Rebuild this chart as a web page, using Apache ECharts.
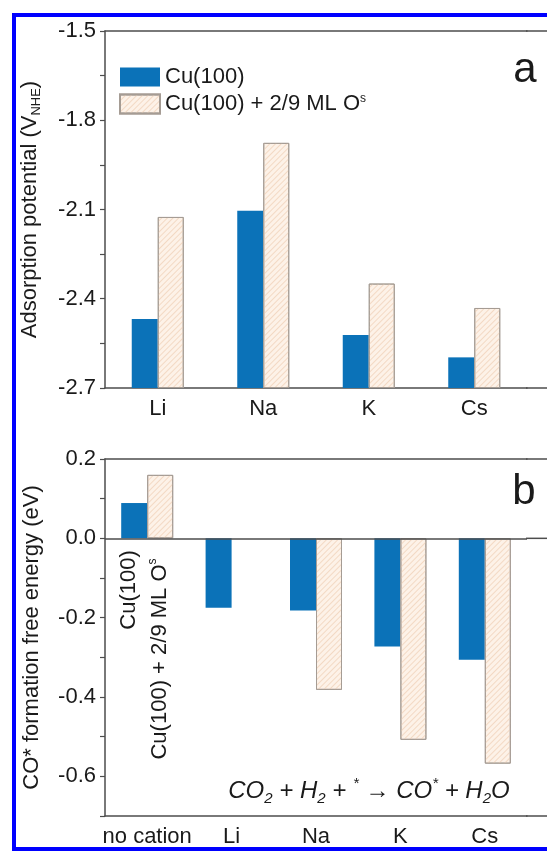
<!DOCTYPE html>
<html>
<head>
<meta charset="utf-8">
<script src="https://cdn.jsdelivr.net/npm/echarts@6/dist/echarts.min.js"></script>
<style>
html,body{margin:0;padding:0;background:#fff;}
#main{width:547px;height:851px;}
</style>
</head>
<body>
<div id="main"></div>
<script>
/* 数据 */
var catsA = ['Li', 'Na', 'K', 'Cs'];
var potCu = [-2.468, -2.104, -2.522, -2.597];      // Cu(100)
var potCuO = [-2.125, -1.876, -2.349, -2.431];     // Cu(100) + 2/9 ML O^s
var potBase = -2.7;                                 // 柱子起点（轴底）
var catsB = ['no cation', 'Li', 'Na', 'K', 'Cs'];
var coCu = [0.089, -0.175, -0.182, -0.273, -0.306];
var coCuO = [0.16, null, -0.382, -0.508, -0.568];

var nameA = 'Cu(100)';
var nameB = 'Cu(100) + 2/9 ML Os';

var blue = '#0b72b8';
var axisCol = '#4d4d4d';
var txtCol = '#1a1a1a';
var font = 'Liberation Sans, Arial, sans-serif';

var hatch = {
    color: '#fdf2e8',
    borderColor: '#a59c94',
    borderWidth: 1,
    decal: {
        symbol: 'rect',
        symbolSize: 1,
        dashArrayX: [[1, 0]],
        dashArrayY: [1, 2.5],
        rotation: -Math.PI / 4,
        color: '#f3d9c4'
    }
};

// 上图柱子从 -2.7 起画：透明底座 + 堆叠差值
var baseArr = catsA.map(function () { return potBase; });
function fromBase(arr) {
    return arr.map(function (v) { return +(v - potBase).toFixed(4); });
}

function yAxisCfg(gi, min, max, step, name) {
    return {
        type: 'value', gridIndex: gi, min: min, max: max, interval: step,
        axisLine: {show: true, lineStyle: {color: axisCol, width: 1.5}},
        axisTick: {show: true, length: 5, lineStyle: {color: axisCol, width: 1.2}},
        splitLine: {show: false},
        axisLabel: {
            fontSize: 22, color: txtCol, fontFamily: font, margin: 9,
            formatter: function (v) {
                return Math.round(v / step) % 2 === 0 ? v.toFixed(1) : '';
            }
        },
        name: name, nameLocation: 'middle', nameRotate: 90, nameGap: 62,
        nameTextStyle: {
            fontSize: 22, color: txtCol, fontFamily: font,
            rich: {
                n: {fontSize: 22, color: txtCol, fontFamily: font, lineHeight: 26},
                sub: {fontSize: 13, color: txtCol, fontFamily: font, lineHeight: 12, verticalAlign: 'bottom'}
            }
        }
    };
}

function xAxisCfg(gi, data) {
    return {
        type: 'category', gridIndex: gi, data: data,
        axisLine: {onZero: false, lineStyle: {color: axisCol, width: 1.5}},
        axisTick: {alignWithLabel: true, interval: 0, length: 6, lineStyle: {color: axisCol, width: 1.2}},
        axisLabel: {interval: 0, fontSize: 22, color: txtCol, fontFamily: font, margin: 10}
    };
}

function frameTop(gi, data) {
    return {
        type: 'category', gridIndex: gi, data: data, position: 'top',
        axisLine: {onZero: false, lineStyle: {color: axisCol, width: 1.5}},
        axisTick: {show: false}, axisLabel: {show: false}
    };
}

var myChart = echarts.init(document.getElementById('main'));
var option = {
    backgroundColor: '#fff',
    animation: false,
    grid: [
        {left: 105, right: 20, top: 31, height: 357},
        {left: 105, right: 20, top: 459, height: 357}
    ],
    legend: {
        data: [nameA, nameB],
        orient: 'vertical',
        left: 114, top: 61,
        icon: 'rect',
        itemWidth: 40, itemHeight: 19, itemGap: 5,
        textStyle: {
            fontSize: 22, color: txtCol, fontFamily: font,
            rich: {
                n: {fontSize: 22, color: txtCol, fontFamily: font},
                sup: {fontSize: 12, color: txtCol, fontFamily: font, verticalAlign: 'top', lineHeight: 12}
            }
        },
        formatter: function (n) {
            return n === nameB ? '{n|Cu(100) + 2/9 ML O}{sup|s}' : '{n|' + n + '}';
        }
    },
    xAxis: [xAxisCfg(0, catsA), frameTop(0, catsA), xAxisCfg(1, catsB), frameTop(1, catsB)],
    yAxis: [
        yAxisCfg(0, -2.7, -1.5, 0.15, '{n|Adsorption potential (V}{sub|NHE}{n|)}'),
        yAxisCfg(1, -0.7, 0.2, 0.1, 'CO* formation free energy (eV)')
    ],
    series: [
        {name: 'baseA', type: 'bar', xAxisIndex: 0, yAxisIndex: 0, data: baseArr, stack: 'a',
         stackStrategy: 'all', barWidth: 26, barGap: '0%', silent: true,
         itemStyle: {color: 'rgba(0,0,0,0)'}},
        {name: nameA, type: 'bar', xAxisIndex: 0, yAxisIndex: 0, data: fromBase(potCu), stack: 'a',
         stackStrategy: 'all', barWidth: 26, barGap: '0%', itemStyle: {color: blue}},
        {name: 'baseB', type: 'bar', xAxisIndex: 0, yAxisIndex: 0, data: baseArr, stack: 'b',
         stackStrategy: 'all', barWidth: 26, barGap: '0%', silent: true,
         itemStyle: {color: 'rgba(0,0,0,0)'}},
        {name: nameB, type: 'bar', xAxisIndex: 0, yAxisIndex: 0, data: fromBase(potCuO), stack: 'b',
         stackStrategy: 'all', barWidth: 26, barGap: '0%', itemStyle: hatch},
        {name: nameA, type: 'bar', xAxisIndex: 2, yAxisIndex: 1, data: coCu,
         barWidth: 26, barGap: '0%', itemStyle: {color: blue},
         markLine: {silent: true, symbol: 'none', label: {show: false},
                    lineStyle: {color: axisCol, width: 1.5, type: 'solid'},
                    data: [{yAxis: 0}]}},
        {name: nameB, type: 'bar', xAxisIndex: 2, yAxisIndex: 1, data: coCuO,
         barWidth: 26, barGap: '0%', itemStyle: hatch}
    ]
};
myChart.setOption(option);

// 边框与注释
var ext = [];
[[0, -1.5], [0, -2.7], [1, 0.2], [1, 0], [1, -0.7]].forEach(function (p) {
    var y = myChart.convertToPixel({yAxisIndex: p[0]}, p[1]);
    ext.push({type: 'line', shape: {x1: 526, y1: y, x2: 547, y2: y},
              style: {stroke: axisCol, lineWidth: 1.5}});
});
myChart.setOption({
    graphic: ext.concat([
        {type: 'rect', shape: {x: 14, y: 15, width: 600, height: 834},
         style: {fill: 'none', stroke: '#0000ff', lineWidth: 4}},
        {type: 'text', x: 525, y: 70, style: {text: 'a', fontSize: 42, fontFamily: font,
         fill: txtCol, align: 'center', verticalAlign: 'middle'}},
        {type: 'text', x: 524, y: 492, style: {text: 'b', fontSize: 42, fontFamily: font,
         fill: txtCol, align: 'center', verticalAlign: 'middle'}},
        {type: 'text', x: 129, y: 590, rotation: Math.PI / 2,
         style: {text: 'Cu(100)', fontSize: 22, fontFamily: font, fill: txtCol,
                 align: 'center', verticalAlign: 'middle'}},
        {type: 'text', x: 160, y: 659, rotation: Math.PI / 2,
         style: {text: '{n|Cu(100) + 2/9 ML O}{sup|s}', align: 'center', verticalAlign: 'middle',
                 rich: {n: {fontSize: 22, fontFamily: font, fill: txtCol, lineHeight: 26},
                        sup: {fontSize: 12, fontFamily: font, fill: txtCol, lineHeight: 12, verticalAlign: 'top'}}}},
        {type: 'text', x: 369, y: 791,
         style: {text: '{i|CO}{sub|2}{i| + H}{sub|2}{i| + }{sup|*}{i| \u2192 CO}{sup|*}{i| + H}{sub|2}{i|O}',
                 align: 'center', verticalAlign: 'middle',
                 rich: {i: {fontSize: 24, fontStyle: 'italic', fontFamily: font, fill: txtCol, lineHeight: 30},
                        sub: {fontSize: 15, fontStyle: 'italic', fontFamily: font, fill: txtCol, lineHeight: 12, verticalAlign: 'bottom'},
                        sup: {fontSize: 15, fontStyle: 'italic', fontFamily: font, fill: txtCol, lineHeight: 12, verticalAlign: 'top'}}}}
    ])
});
</script>
</body>
</html>
